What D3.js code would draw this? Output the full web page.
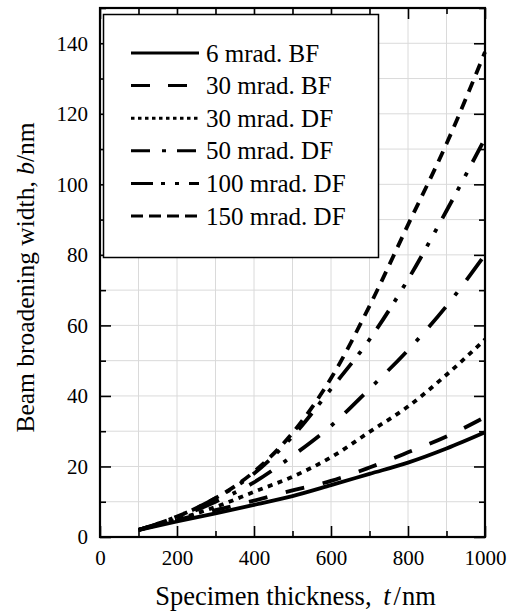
<!DOCTYPE html>
<html>
<head>
<meta charset="utf-8">
<script src="https://cdn.jsdelivr.net/npm/d3@7"></script>
<style>
    body { margin: 0; background: #fff; }
    svg { display: block; font-family: "Liberation Serif", "Times New Roman", serif; }
</style>
</head>
<body>
<script>
// values, b (nm) against specimen thickness t (nm)
var thickness = [100, 200, 300, 400, 500, 600, 700, 800, 900, 1000];
var bf6 = [2, 4.4, 6.7, 9.1, 11.6, 14.7, 17.9, 21.1, 25.1, 29.7];
var bf30 = [2, 4.8, 7.6, 10.3, 13.2, 15.9, 19.7, 24, 28.5, 34];
var df30 = [2, 5, 8.5, 12.8, 17.1, 22.6, 29.8, 37, 46, 56];
var df50 = [2, 5.5, 10, 15.5, 23, 31.5, 42, 53, 65.5, 80];
var df100 = [2, 5.8, 11, 18, 28.5, 42, 56, 73, 92.5, 113];
var df150 = [2, 5.8, 11, 18.5, 29.5, 45, 65.5, 88.5, 111.5, 137.5];
var seriesNames = ['6 mrad. BF', '30 mrad. BF', '30 mrad. DF', '50 mrad. DF', '100 mrad. DF', '150 mrad. DF'];
var xMajor = [0, 200, 400, 600, 800, 1000];
var xMinor = [100, 300, 500, 700, 900];
var yMajor = [0, 20, 40, 60, 80, 100, 120, 140];
var yMinor = [10, 30, 50, 70, 90, 110, 130, 150];

(function() {
    var w = 519,
        h = 612,
        left = 100, right = 485, top = 8, bottom = 537,
        serif = '"Liberation Serif", "Times New Roman", serif';

    var svg = d3.select('body').append('svg')
        .attr('width', w)
        .attr('height', h);

    var x = d3.scaleLinear().domain([0, 1000]).range([left, right]);
    var y = d3.scaleLinear().domain([0, 150]).range([bottom, top]);

    // grid
    var grid = svg.append('g').attr('class', 'grid');
    grid.selectAll('line.gx')
        .data(d3.range(100, 1000, 100))
        .enter().append('line')
        .attr('x1', x).attr('x2', x)
        .attr('y1', top).attr('y2', bottom)
        .attr('stroke', '#dadada').attr('stroke-width', 1);
    grid.selectAll('line.gy')
        .data(d3.range(10, 150, 10))
        .enter().append('line')
        .attr('y1', y).attr('y2', y)
        .attr('x1', left).attr('x2', right)
        .attr('stroke', '#dadada').attr('stroke-width', 1);

    // curves
    var series = [
        { name: seriesNames[0], values: bf6, dash: null, legendDash: null },
        { name: seriesNames[1], values: bf30, dash: '19,19', legendDash: '19,18' },
        { name: seriesNames[2], values: df30, dash: '5,5.5', legendDash: '3.5,3.5' },
        { name: seriesNames[3], values: df50, dash: '26,15,4,15', legendDash: '19,12,4,11' },
        { name: seriesNames[4], values: df100, dash: '21,11,4,12,4,12', legendDash: '22,8,4,10,4,10' },
        { name: seriesNames[5], values: df150, dash: '11,8', legendDash: '12,6' }
    ];

    var line = d3.line()
        .x(function(d) { return x(d[0]); })
        .y(function(d) { return y(d[1]); })
        .curve(d3.curveMonotoneX);

    svg.append('g').attr('class', 'curves')
        .selectAll('path')
        .data(series)
        .enter().append('path')
        .attr('d', function(s) { return line(d3.zip(thickness, s.values)); })
        .attr('fill', 'none')
        .attr('stroke', '#000')
        .attr('stroke-width', 3.8)
        .attr('stroke-dasharray', function(s) { return s.dash; });

    // axes, ticks pointing inwards on all four sides
    function clean(g) {
        g.attr('font-family', serif).attr('font-size', 21);
        g.select('.domain').remove();
        g.selectAll('line').attr('stroke-width', 1.6);
        g.selectAll('text')
            .style('font-family', serif)
            .style('font-size', '21px')
            .attr('fill', '#000');
    }

    svg.append('g').attr('transform', 'translate(0,' + bottom + ')')
        .call(d3.axisBottom(x).tickValues(xMajor).tickSize(-11).tickPadding(13).tickFormat(d3.format('d')))
        .call(clean);
    svg.append('g').attr('transform', 'translate(0,' + bottom + ')')
        .call(d3.axisBottom(x).tickValues(xMinor).tickSize(-6).tickFormat(''))
        .call(clean);
    svg.append('g').attr('transform', 'translate(0,' + top + ')')
        .call(d3.axisTop(x).tickValues(xMajor).tickSize(-11).tickFormat(''))
        .call(clean);
    svg.append('g').attr('transform', 'translate(0,' + top + ')')
        .call(d3.axisTop(x).tickValues(xMinor).tickSize(-6).tickFormat(''))
        .call(clean);
    svg.append('g').attr('transform', 'translate(' + left + ',0)')
        .call(d3.axisLeft(y).tickValues(yMajor).tickSize(-11).tickPadding(12))
        .call(clean);
    svg.append('g').attr('transform', 'translate(' + left + ',0)')
        .call(d3.axisLeft(y).tickValues(yMinor).tickSize(-6).tickFormat(''))
        .call(clean);
    svg.append('g').attr('transform', 'translate(' + right + ',0)')
        .call(d3.axisRight(y).tickValues(yMajor).tickSize(-11).tickFormat(''))
        .call(clean);
    svg.append('g').attr('transform', 'translate(' + right + ',0)')
        .call(d3.axisRight(y).tickValues(yMinor).tickSize(-6).tickFormat(''))
        .call(clean);

    // frame
    svg.append('rect')
        .attr('x', left).attr('y', top)
        .attr('width', right - left).attr('height', bottom - top)
        .attr('fill', 'none').attr('stroke', '#000').attr('stroke-width', 2.2);

    // legend
    var lg = svg.append('g').attr('class', 'legend');
    lg.append('rect')
        .attr('x', 103.5).attr('y', 14.5)
        .attr('width', 275).attr('height', 243)
        .attr('fill', '#fff').attr('stroke', '#000').attr('stroke-width', 1.5);
    var rowY = d3.scaleLinear().domain([0, 5]).range([53, 216]);
    var rows = lg.selectAll('g.row')
        .data(series)
        .enter().append('g')
        .attr('class', 'row')
        .attr('transform', function(s, i) { return 'translate(0,' + rowY(i) + ')'; });
    rows.append('line')
        .attr('x1', 131).attr('x2', 199)
        .attr('stroke', '#000').attr('stroke-width', 3)
        .attr('stroke-dasharray', function(s) { return s.legendDash; });
    rows.append('text')
        .attr('x', 206).attr('y', 8.5)
        .attr('font-size', 25)
        .text(function(s) { return s.name; });

    // axis titles
    var xt = svg.append('text')
        .attr('x', (left + right) / 2 + 3)
        .attr('y', 605)
        .attr('text-anchor', 'middle')
        .attr('font-size', 26.5);
    xt.append('tspan').text('Specimen thickness, ');
    xt.append('tspan').attr('font-style', 'italic').attr('dx', 5).text('t');
    xt.append('tspan').attr('dx', 3).text('/');
    xt.append('tspan').attr('dx', 1).text('nm');

    var yt = svg.append('text')
        .attr('transform', 'translate(34,' + ((top + bottom) / 2 + 5) + ') rotate(-90)')
        .attr('text-anchor', 'middle')
        .attr('font-size', 25.5);
    yt.append('tspan').text('Beam broadening width, ');
    yt.append('tspan').attr('font-style', 'italic').text('b');
    yt.append('tspan').text('/nm');
})();
</script>
</body>
</html>
